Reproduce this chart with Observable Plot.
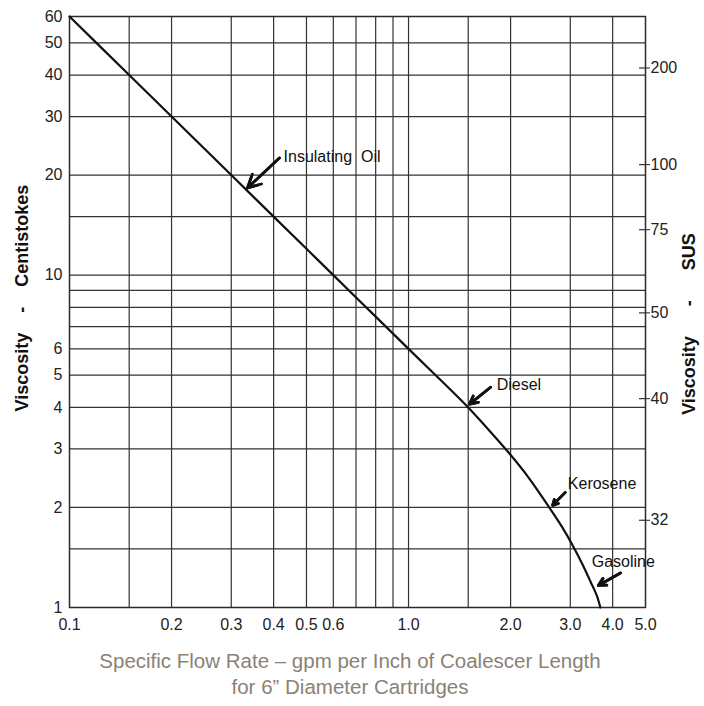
<!DOCTYPE html>
<html>
<head>
<meta charset="utf-8">
<script src="https://cdn.jsdelivr.net/npm/d3@7"></script>
<script src="https://cdn.jsdelivr.net/npm/@observablehq/plot@0.6"></script>
<style>
  html, body { margin: 0; padding: 0; background: #fff; }
  #chart svg { display: block; }
  #caption {
    width: 700px;
    margin-top: 6px;
    text-align: center;
    font-family: "Liberation Sans", Arial, Helvetica, sans-serif;
    font-size: 20.5px;
    line-height: 26px;
    color: #8b8175;
  }
</style>
</head>
<body>
<div id="chart"></div>
<div id="caption">Specific Flow Rate – gpm per Inch of Coalescer Length<br>for 6” Diameter Cartridges</div>
<script>
// ---- data ----
const flowRate  = [0.1, 0.15, 0.2, 0.3, 0.4, 0.5, 0.6, 0.8, 1.0, 1.5, 1.72, 1.97, 2.26, 2.6, 2.83, 3.05, 3.26, 3.44, 3.59, 3.66, 3.68];
const viscosity = [60,  40,   30,  20,  15,  12,  10,  7.5, 6,   4,   3.43, 2.93, 2.46, 2.0, 1.754, 1.537, 1.347, 1.198, 1.087, 1.021, 1.0];

const xGrid = [0.15, 0.2, 0.3, 0.4, 0.5, 0.6, 0.7, 0.8, 0.9, 1.0, 1.5, 2, 3, 4];
const yGrid = [1.5, 2, 3, 4, 5, 6, 7, 8, 9, 10, 15, 20, 30, 40, 50];

const xTicks      = [0.1, 0.2, 0.3, 0.4, 0.5, 0.6, 0.8, 1, 2, 3, 4, 5];
const xTickLabels = ["0.1", "0.2", "0.3", "0.4", "0.5", "0.6", "0.8", "1.0", "2.0", "3.0", "4.0", "5.0"];
const yTicks      = [1, 2, 3, 4, 5, 6, 8, 10, 20, 30, 40, 50, 60];

// SUS scale (right) placed at equivalent centistokes
const susPositions = [42, 21.5, 13.7, 7.7, 4.25, 1.83];
const susLabels    = ["200", "100", "75", "50", "40", "32"];

// annotations
const annoLabels = ["Insulating\u00A0 Oil", "Diesel", "Kerosene", "Gasoline"];
const annoTextX  = [0.428, 1.82, 2.95, 3.47];
const annoTextY  = [22.7, 4.66, 2.35, 1.375];
const tailX = [0.416, 1.746, 2.9, 4.22];
const tailY = [22.5, 4.6, 2.22, 1.27];
const tipX  = [0.335, 1.514, 2.66, 3.63];
const tipY  = [18.3, 4.09, 2.03, 1.165];

// ---- build ----
const curve = flowRate.map((x, i) => ({x, y: viscosity[i]}));
const xLabelMap = new Map(xTicks.map((d, i) => [d, xTickLabels[i]]));
const idx = annoLabels.map((_, i) => i);
const susIdx = susLabels.map((_, i) => i);

const chart = Plot.plot({
  width: 704,
  height: 642,
  marginTop: 16,
  marginBottom: 35,
  marginLeft: 69,
  marginRight: 59,
  x: {type: "log", domain: [0.1, 5]},
  y: {type: "log", domain: [1, 60]},
  style: {fontFamily: "'Liberation Sans', Arial, Helvetica, sans-serif", fontSize: "15px", color: "#222", background: "#fff"},
  marks: [
    Plot.ruleX(xGrid, {stroke: "#333", strokeWidth: 1.2}),
    Plot.ruleY(yGrid, {stroke: "#333", strokeWidth: 1.2}),
    Plot.frame({stroke: "#2a2a2a", strokeWidth: 1.5}),
    Plot.axisX({ticks: xTicks, tickFormat: d => xLabelMap.get(d), tickSize: 0, tickPadding: 11, label: null, fontSize: 16}),
    Plot.axisY({anchor: "left", ticks: yTicks, tickFormat: d => String(d), tickSize: 0, tickPadding: 7, label: null, fontSize: 16}),
    Plot.axisY({anchor: "right", ticks: susPositions, tickFormat: () => "", tickSize: 4, label: null}),
    Plot.ruleY(susPositions, {x1: 4.8, x2: 5, stroke: "#333", strokeWidth: 1.2}),
    Plot.text(susIdx, {y: i => susPositions[i], text: i => susLabels[i], frameAnchor: "right", textAnchor: "start", dx: 5, fontSize: 16, fill: "#222"}),
    Plot.text(["Viscosity\u00A0\u00A0\u00A0 -\u00A0\u00A0\u00A0 Centistokes"], {text: d => d, frameAnchor: "left", textAnchor: "middle", rotate: -90, dx: -47, dy: -14, fontWeight: "bold", fontSize: 18, fill: "#111"}),
    Plot.text(["Viscosity\u00A0\u00A0\u00A0\u00A0\u00A0 -\u00A0\u00A0\u00A0\u00A0\u00A0 SUS"], {text: d => d, frameAnchor: "right", textAnchor: "middle", rotate: -90, dx: 44, dy: 12, fontWeight: "bold", fontSize: 18, fill: "#111"}),
    Plot.line(curve, {x: "x", y: "y", curve: "catmull-rom", stroke: "#111", strokeWidth: 2.2}),
    Plot.arrow(idx, {x1: i => tailX[i], y1: i => tailY[i], x2: i => tipX[i], y2: i => tipY[i], stroke: "#111", strokeWidth: 2.8, headLength: 11, headAngle: 55}),
    Plot.arrow(idx, {x1: i => tailX[i], y1: i => tailY[i], x2: i => tipX[i], y2: i => tipY[i], stroke: "#111", strokeWidth: 2.8, headLength: 6, headAngle: 55}),
    Plot.text(idx, {x: i => annoTextX[i], y: i => annoTextY[i], text: i => annoLabels[i], textAnchor: "start", fontSize: 16, fill: "#111"})
  ]
});
document.getElementById("chart").appendChild(chart);
</script>
</body>
</html>
